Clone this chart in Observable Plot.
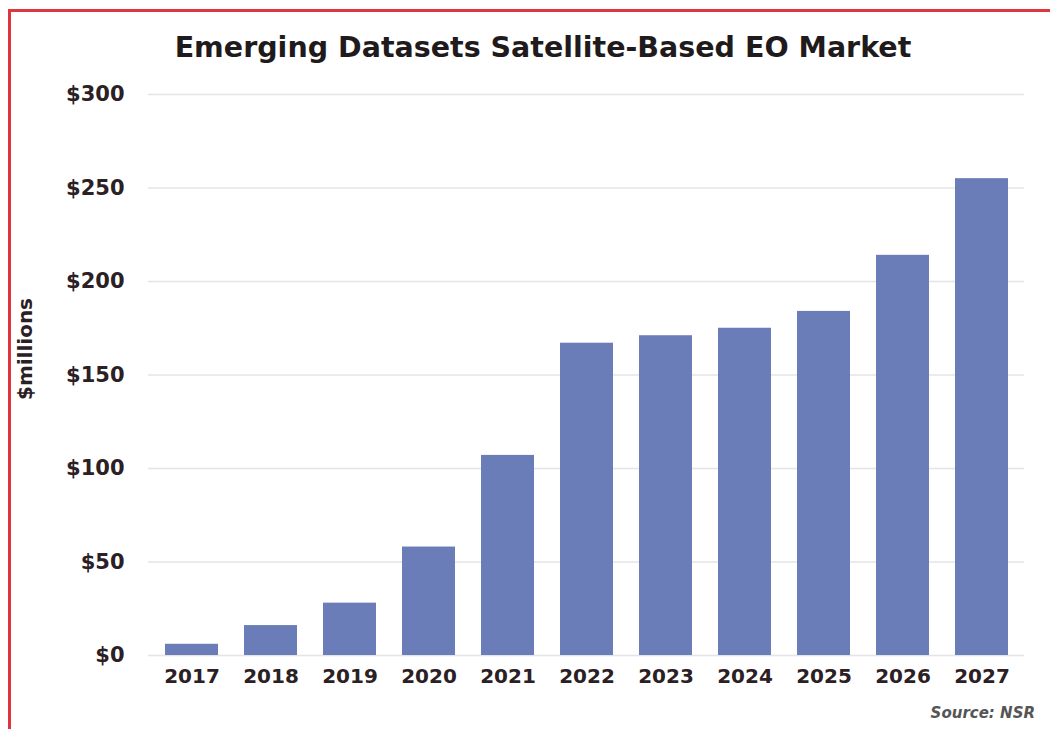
<!DOCTYPE html>
<html>
<head>
<meta charset="utf-8">
<script src="https://cdn.jsdelivr.net/npm/d3@7"></script>
<script src="https://cdn.jsdelivr.net/npm/@observablehq/plot@0.6"></script>
<style>
  html, body { margin: 0; padding: 0; background: #fff; width: 1050px; height: 729px; overflow: hidden; }
  body { position: relative; font-family: "DejaVu Sans", sans-serif; }
  #frame { position: absolute; left: 8px; top: 9px; width: 1100px; height: 800px; border-top: 3px solid #e0353c; border-left: 3px solid #e0353c; pointer-events: none; }
  #title { position: absolute; top: 31px; left: 0; width: 1086px; text-align: center; font-size: 28.5px; line-height: 34px; font-weight: 700; color: #1f1a1c; }
  #chart { position: absolute; top: 70px; left: 0; }
  #caption { position: absolute; top: 704px; right: 15px; font-size: 15px; font-style: italic; font-weight: 700; color: #555; }
</style>
</head>
<body>
<div id="frame"></div>
<div id="title">Emerging Datasets Satellite-Based EO Market</div>
<div id="chart"></div>
<div id="caption">Source: NSR</div>
<script>
const years = ["2017","2018","2019","2020","2021","2022","2023","2024","2025","2026","2027"];
const values = [6, 16, 28, 58, 107, 167, 171, 175, 184, 214, 255];
const yTicks = [0, 50, 100, 150, 200, 250, 300];
const yLabel = "$millions";

const data = years.map((y, i) => ({year: y, value: values[i]}));

const chart = Plot.plot({
  width: 1050,
  height: 640,
  marginTop: 24,
  marginBottom: 55,
  marginLeft: 148,
  marginRight: 26,
  style: {fontFamily: "DejaVu Sans, sans-serif", color: "#2b2024", background: "transparent"},
  x: {domain: years, paddingInner: 0.33, paddingOuter: 0.165, label: null},
  y: {domain: [0, 300], label: null},
  marks: [
    Plot.gridY(yTicks, {stroke: "#e4e4e4", strokeOpacity: 1, strokeWidth: 1.5}),
    Plot.barY(data, {x: "year", y: "value", fill: "#6a7db8"}),
    Plot.axisY({ticks: yTicks, tickFormat: d => "$" + d, tickSize: 0, tickPadding: 24, fontSize: 21, fontWeight: 700, label: null}),
    Plot.axisX({tickSize: 0, tickPadding: 13, fontSize: 20, fontWeight: 700, label: null}),
    Plot.text([yLabel], {text: d => d, frameAnchor: "left", textAnchor: "middle", rotate: -90, dx: -123, dy: -26, fontSize: 20, fontWeight: 700, fill: "#2b2024"})
  ]
});
document.getElementById("chart").appendChild(chart);
</script>
</body>
</html>
